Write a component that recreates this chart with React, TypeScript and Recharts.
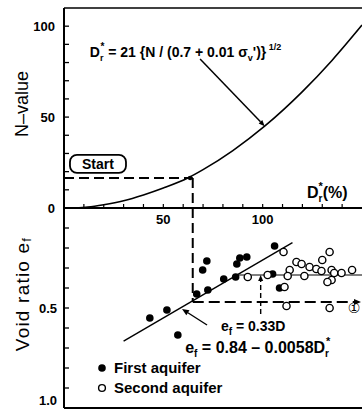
import React from "react";
import {
  ComposedChart,
  Line,
  Scatter,
  XAxis,
  YAxis,
  ReferenceLine,
  ReferenceDot,
  ReferenceArea,
  Legend,
} from "recharts";

const FONT = '"Liberation Sans Narrow", "Liberation Sans", Arial, sans-serif';
const TITLE_FONT = '"Liberation Sans", Arial, sans-serif';

// upper panel: N-value against D_r* (%)
const curveD = [5.5, 12, 20, 30, 40, 50, 62.3, 70, 85, 101, 120, 135, 150];
const curveN = [0, 0.5, 1.8, 4, 7.2, 11, 16.5, 21.1, 31.6, 45, 64, 81.3, 100.6];

const nTicks = [0, 10, 20, 30, 40, 50, 60, 70, 80, 90, 100];
const nLabels = [0, 50, 100];
const dTicks = [10, 20, 30, 40, 50, 60, 70, 80, 90, 100, 110, 120, 130, 140];
const dLabels = [50, 100];
const eTicks = [0.1, 0.2, 0.3, 0.4, 0.5, 0.6, 0.7, 0.8, 0.9, 1.0];
const eLabels = [0.5, 1.0];

// lower panel: void ratio e_f against D_r* (%)
const firstD = [43.2, 51.8, 57.3, 66.8, 72.4, 69.8, 71.9, 80.4, 86.4, 87, 88.5, 92, 106, 105, 108.5];
const firstE = [0.55, 0.51, 0.635, 0.43, 0.41, 0.31, 0.265, 0.355, 0.345, 0.28, 0.25, 0.245, 0.19, 0.33, 0.4];

const secondD = [92.5, 102.5, 110.5, 133.7, 130, 117, 119.6, 123.6, 113.6, 127, 129.6, 134.7, 136, 139.7, 145, 112.6, 121, 134.7, 132.6, 111, 112, 133.7];
const secondE = [0.345, 0.335, 0.22, 0.22, 0.26, 0.27, 0.28, 0.295, 0.31, 0.305, 0.315, 0.31, 0.325, 0.325, 0.31, 0.34, 0.34, 0.36, 0.37, 0.395, 0.49, 0.5];

// construction lines
const startN = 16.5;
const startD = 64.8;
const startE = 0.47;
const fitD = [30, 115];
const fitE = [0.666, 0.173];
const levelD = [88, 150];
const levelE = 0.335;
const startBoxD = [3, 31.2];
const startBoxN = [19.3, 29.2];

const curveData = curveD.map((d, i) => ({ d, n: curveN[i] }));
const firstData = firstD.map((d, i) => ({ d, e: firstE[i] }));
const secondData = secondD.map((d, i) => ({ d, e: secondE[i] }));

const arrow = (dash?: string, width = 1.5, head = 7) => (p: any) => {
  const { x1, y1, x2, y2 } = p;
  const a = Math.atan2(y2 - y1, x2 - x1);
  const bx = x2 - head * Math.cos(a);
  const by = y2 - head * Math.sin(a);
  const w = head * 0.42;
  const px = -Math.sin(a) * w;
  const py = Math.cos(a) * w;
  return (
    <g>
      <line x1={x1} y1={y1} x2={bx} y2={by} stroke="#000" strokeWidth={width} strokeDasharray={dash} />
      <polygon points={`${x2},${y2} ${bx + px},${by + py} ${bx - px},${by - py}`} fill="#000" />
    </g>
  );
};

const NTick = (p: any) => {
  const { x, y, payload } = p;
  return (
    <g>
      <line x1={x} y1={y} x2={x + 5} y2={y} stroke="#000" strokeWidth={1.3} />
      {nLabels.includes(payload.value) && (
        <text x={x - 9} y={y + 5} textAnchor="end" fontSize={13} fontWeight="bold" fontFamily={FONT}>
          {payload.value}
        </text>
      )}
    </g>
  );
};

const ETick = (p: any) => {
  const { x, y, payload } = p;
  const v = payload.value;
  return (
    <g>
      <line x1={x} y1={y} x2={x + 5} y2={y} stroke="#000" strokeWidth={1.3} />
      {eLabels.includes(v) && (
        <text x={x - 7} y={v === 1 ? y - 3 : y + 5} textAnchor="end" fontSize={13} fontWeight="bold" fontFamily={FONT}>
          {v.toFixed(1)}
        </text>
      )}
    </g>
  );
};

const DTick = (p: any) => {
  const { x, y, payload } = p;
  return (
    <g>
      <line x1={x} y1={y} x2={x} y2={y - 4} stroke="#000" strokeWidth={1.2} />
      {dLabels.includes(payload.value) && (
        <text x={x} y={y + 16} textAnchor="middle" fontSize={13} fontWeight="bold" fontFamily={FONT}>
          {payload.value}
        </text>
      )}
    </g>
  );
};

const NTitle = (p: any) => {
  const vb = p.viewBox;
  const cx = vb.x + 22;
  const cy = vb.y + vb.height / 2 - 4;
  return (
    <text x={cx} y={cy} transform={`rotate(-90 ${cx} ${cy})`} textAnchor="middle" dominantBaseline="central" fontSize={18} fontFamily={TITLE_FONT}>
      N–value
    </text>
  );
};

const ETitle = (p: any) => {
  const vb = p.viewBox;
  const cx = vb.x + 22;
  const cy = vb.y + vb.height / 2 - 14;
  return (
    <text x={cx} y={cy} transform={`rotate(-90 ${cx} ${cy})`} textAnchor="middle" dominantBaseline="central" fontSize={19} letterSpacing={1.2} fontFamily={TITLE_FONT}>
      Void ratio e<tspan fontSize={13} dy={4}>f</tspan>
    </text>
  );
};

const at = (render: (x: number, y: number) => React.ReactNode) => (p: any) => {
  const vb = p.viewBox;
  return render(vb.x + vb.width / 2, vb.y + vb.height / 2);
};

const Formula = at((x, y) => (
  <text x={x} y={y + 5} fontFamily={FONT} fontSize={14} fontWeight="bold" fill="#000">
    D<tspan fontSize={9} dy={4}>r</tspan>
    <tspan fontSize={10} dx={-3} dy={-11}>*</tspan>
    <tspan dy={7}>{" = 21 {N / (0.7 + 0.01 σ"}</tspan>
    <tspan fontSize={9} dy={4}>v</tspan>
    <tspan dy={-4}>{"')}"}</tspan>
    <tspan fontSize={9} dy={-7}>{" 1/2"}</tspan>
  </text>
));

const DLabel = at((x, y) => (
  <text x={x} y={y + 5} fontFamily={FONT} fontSize={16} fontWeight="bold" fill="#000">
    D<tspan fontSize={10} dy={4}>r</tspan>
    <tspan fontSize={11} dx={-4} dy={-12}>*</tspan>
    <tspan dy={8}>(%)</tspan>
  </text>
));

const FitLabel = at((x, y) => (
  <text x={x} y={y + 5} fontFamily={FONT} fontSize={16} fontWeight="bold" fill="#000">
    e<tspan fontSize={10} dy={4}>f</tspan>
    <tspan dy={-4}>{" = 0.84 – 0.0058D"}</tspan>
    <tspan fontSize={10} dy={4}>r</tspan>
    <tspan fontSize={11} dx={-3} dy={-12}>*</tspan>
  </text>
));

const LevelLabel = at((x, y) => (
  <text x={x} y={y + 5} fontFamily={FONT} fontSize={14} fontWeight="bold" fill="#000">
    e<tspan fontSize={10} dy={4}>f</tspan>
    <tspan dy={-4}>{" = 0.33D"}</tspan>
  </text>
));

const CircledOne = at((x, y) => (
  <text x={x} y={y + 5} textAnchor="middle" fontFamily={'"DejaVu Sans", "Noto Sans CJK JP", sans-serif'} fontSize={14} fill="#000">
    ①
  </text>
));

const StartBox = (p: any) => (
  <rect x={p.x} y={p.y} width={p.width} height={p.height} rx={7} ry={7} fill="#fff" stroke="#000" strokeWidth={1.8} />
);

const StartLabel = (p: any) => {
  const vb = p.viewBox;
  return (
    <text x={vb.x + vb.width / 2} y={vb.y + vb.height / 2 + 5} textAnchor="middle" fontFamily={FONT} fontSize={14} fontWeight="bold">
      Start
    </text>
  );
};

const Filled = (p: any) => <circle cx={p.cx} cy={p.cy} r={3.8} fill="#000" />;
const Open = (p: any) => <circle cx={p.cx} cy={p.cy} r={3.6} fill="#fff" stroke="#000" strokeWidth={1.4} />;

const LegendBox = () => (
  <div style={{ fontFamily: FONT, fontSize: 15, fontWeight: "bold", lineHeight: "20px", color: "#000" }}>
    <div style={{ display: "flex", alignItems: "center" }}>
      <svg width={18} height={12}>
        <circle cx={6} cy={6} r={3.8} fill="#000" />
      </svg>
      First aquifer
    </div>
    <div style={{ display: "flex", alignItems: "center" }}>
      <svg width={18} height={12}>
        <circle cx={6} cy={6} r={3.4} fill="#fff" stroke="#000" strokeWidth={1.4} />
      </svg>
      Second aquifer
    </div>
  </div>
);

const axisLine = { stroke: "#000", strokeWidth: 2 };

export default function App() {
  return (
    <div style={{ position: "absolute", left: 0, top: 0, width: 362, height: 410, background: "#fff" }}>
      <div style={{ position: "absolute", left: 0, top: 0 }}>
        <ComposedChart width={362} height={240} data={curveData} margin={{ top: 8, right: 0, bottom: 0, left: 0 }}>
          <XAxis
            type="number"
            dataKey="d"
            domain={[0, 150]}
            ticks={dTicks}
            interval={0}
            height={32}
            tick={DTick}
            tickLine={false}
            tickSize={0}
            tickMargin={0}
            axisLine={axisLine}
            allowDataOverflow
          />
          <YAxis
            type="number"
            domain={[0, 110]}
            ticks={nTicks}
            interval={0}
            width={64}
            tick={NTick}
            tickLine={false}
            tickSize={0}
            tickMargin={0}
            axisLine={axisLine}
            allowDataOverflow
            label={<NTitle />}
          />
          <ReferenceLine segment={[{ x: 0, y: 110 }, { x: 150, y: 110 }]} stroke="#000" strokeWidth={1.5} />
          <ReferenceLine
            segment={[{ x: 0, y: startN }, { x: startD, y: startN }]}
            stroke="#000"
            strokeWidth={2}
            strokeDasharray="10 5"
          />
          <ReferenceLine
            segment={[{ x: startD, y: startN }, { x: startD, y: 0 }]}
            stroke="#000"
            strokeWidth={2}
            strokeDasharray="10 5"
          />
          <ReferenceArea
            x1={startBoxD[0]}
            x2={startBoxD[1]}
            y1={startBoxN[0]}
            y2={startBoxN[1]}
            shape={StartBox}
            label={<StartLabel />}
          />
          <ReferenceLine segment={[{ x: 68.5, y: 82 }, { x: 101, y: 45 }]} shape={arrow(undefined, 1.5, 6)} />
          <Line type="monotone" dataKey="n" stroke="#000" strokeWidth={1.6} dot={false} isAnimationActive={false} />
          <ReferenceDot x={63.5} y={startN} r={2.3} fill="#000" stroke="none" />
          <ReferenceDot x={13} y={86} r={1} fillOpacity={0} stroke="none" label={<Formula />} />
          <ReferenceDot x={122.3} y={8} r={1} fillOpacity={0} stroke="none" label={<DLabel />} />
        </ComposedChart>
      </div>
      <div style={{ position: "absolute", left: 0, top: 208 }}>
        <ComposedChart width={362} height={202} margin={{ top: 0, right: 0, bottom: 0, left: 0 }}>
          <XAxis
            type="number"
            dataKey="d"
            domain={[0, 150]}
            height={2}
            tick={false}
            tickLine={false}
            axisLine={axisLine}
            allowDataOverflow
          />
          <YAxis
            type="number"
            dataKey="e"
            domain={[0, 1]}
            reversed
            ticks={eTicks}
            interval={0}
            width={64}
            tick={ETick}
            tickLine={false}
            tickSize={0}
            tickMargin={0}
            axisLine={axisLine}
            allowDataOverflow
            label={<ETitle />}
          />
          <ReferenceLine
            segment={[{ x: startD, y: 0 }, { x: startD, y: startE }]}
            stroke="#000"
            strokeWidth={2}
            strokeDasharray="10 5"
          />
          <ReferenceLine
            segment={[{ x: startD, y: startE }, { x: 149.5, y: startE }]}
            shape={arrow("11 5", 2, 7)}
          />
          <ReferenceLine
            segment={[{ x: fitD[0], y: fitE[0] }, { x: fitD[1], y: fitE[1] }]}
            stroke="#000"
            strokeWidth={1.4}
          />
          <ReferenceLine
            segment={[{ x: levelD[0], y: levelE }, { x: levelD[1], y: levelE }]}
            stroke="#000"
            strokeWidth={1}
          />
          <ReferenceLine segment={[{ x: 99, y: 0.53 }, { x: 99, y: levelE }]} shape={arrow("5 3", 1.4, 6)} />
          <ReferenceLine segment={[{ x: 72, y: 0.585 }, { x: 59.4, y: 0.505 }]} shape={arrow(undefined, 1.4, 7)} />
          <Scatter data={firstData} dataKey="e" shape={Filled} isAnimationActive={false} />
          <Scatter data={secondData} dataKey="e" shape={Open} isAnimationActive={false} />
          <ReferenceDot x={79} y={0.59} r={1} fillOpacity={0} stroke="none" label={<LevelLabel />} />
          <ReferenceDot x={61} y={0.7} r={1} fillOpacity={0} stroke="none" label={<FitLabel />} />
          <ReferenceDot x={146} y={0.5} r={1} fillOpacity={0} stroke="none" label={<CircledOne />} />
          <Legend
            layout="horizontal"
            verticalAlign="middle"
            align="center"
            content={LegendBox}
            wrapperStyle={{ left: 96, top: 150, width: 170, height: 44 }}
          />
        </ComposedChart>
      </div>
    </div>
  );
}
